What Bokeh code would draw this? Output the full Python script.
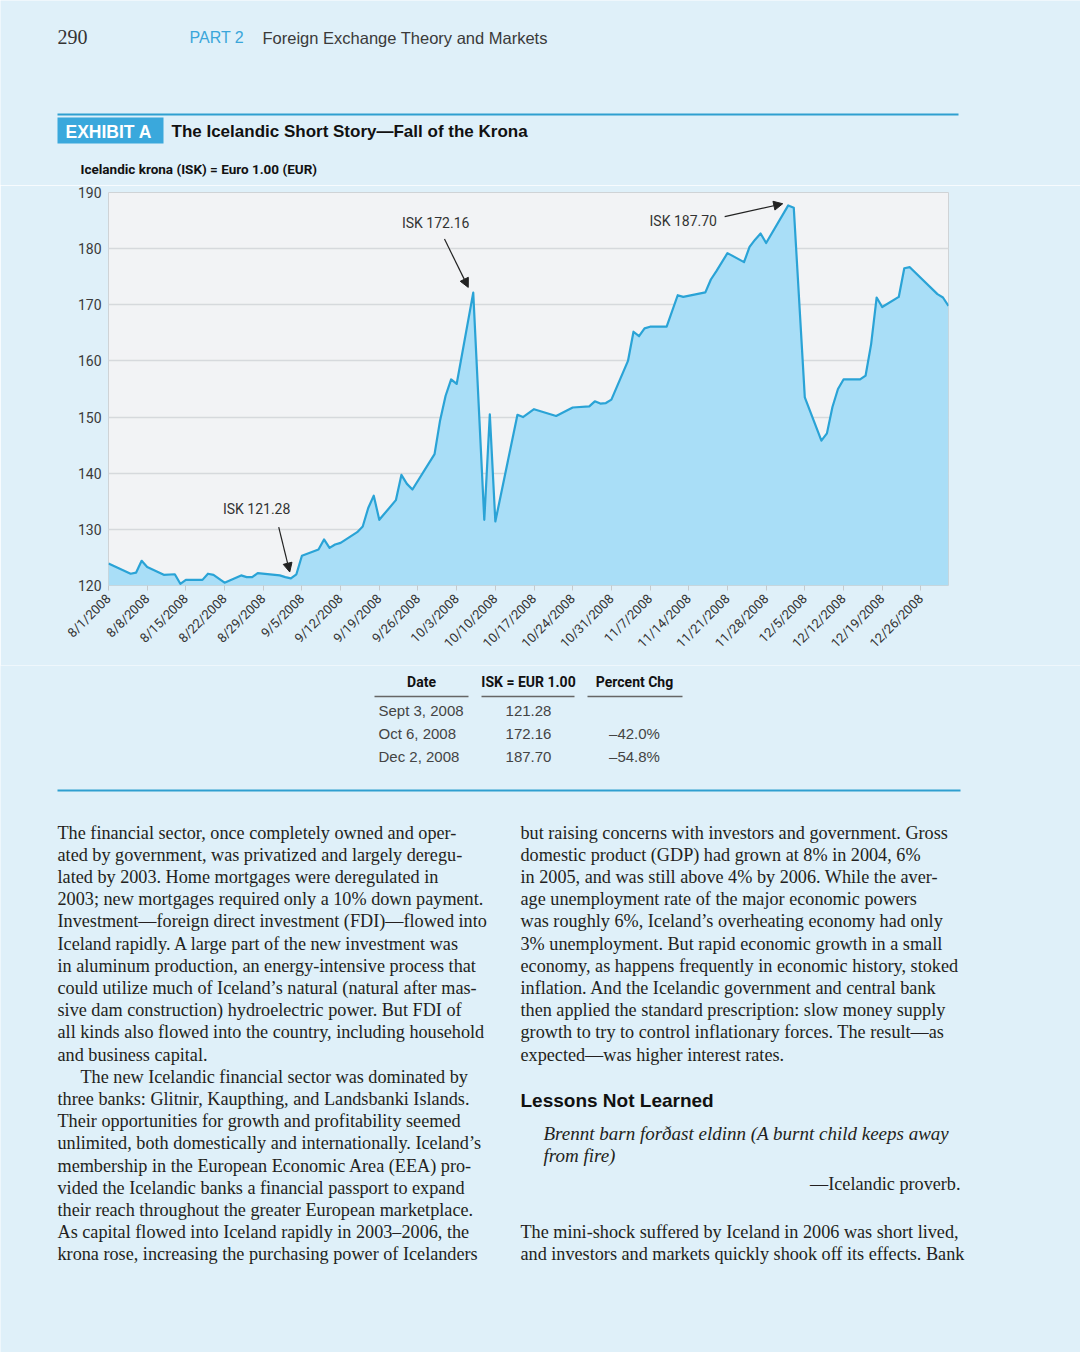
import math
import pandas as pd
from bokeh.plotting import figure
from bokeh.models import Range1d, FixedTicker, CustomJSTickFormatter, Arrow, NormalHead
from bokeh.core.properties import value
from bokeh.embed import file_html
from bokeh.resources import INLINE

# ---------------- data ----------------
dates = ["2008-08-01", "2008-08-05", "2008-08-06", "2008-08-07", "2008-08-08", "2008-08-11",
         "2008-08-13", "2008-08-14", "2008-08-15", "2008-08-18", "2008-08-19", "2008-08-20",
         "2008-08-22", "2008-08-25", "2008-08-26", "2008-08-27", "2008-08-28", "2008-09-01",
         "2008-09-02", "2008-09-03", "2008-09-04", "2008-09-05", "2008-09-08", "2008-09-09",
         "2008-09-10", "2008-09-11", "2008-09-12", "2008-09-15", "2008-09-16", "2008-09-17",
         "2008-09-18", "2008-09-19", "2008-09-22", "2008-09-23", "2008-09-24", "2008-09-25",
         "2008-09-29", "2008-09-30", "2008-10-01", "2008-10-02", "2008-10-03", "2008-10-06",
         "2008-10-08", "2008-10-09", "2008-10-10", "2008-10-14", "2008-10-15", "2008-10-17",
         "2008-10-21", "2008-10-24", "2008-10-27", "2008-10-28", "2008-10-29", "2008-10-30",
         "2008-10-31", "2008-11-03", "2008-11-04", "2008-11-05", "2008-11-06", "2008-11-07",
         "2008-11-10", "2008-11-12", "2008-11-13", "2008-11-17", "2008-11-18", "2008-11-19",
         "2008-11-21", "2008-11-24", "2008-11-25", "2008-11-26", "2008-11-27", "2008-11-28",
         "2008-12-02", "2008-12-03", "2008-12-05", "2008-12-08", "2008-12-09", "2008-12-10",
         "2008-12-11", "2008-12-12", "2008-12-15", "2008-12-16", "2008-12-17", "2008-12-18",
         "2008-12-19", "2008-12-22", "2008-12-23", "2008-12-24", "2008-12-29", "2008-12-30",
         "2008-12-31"]
isk_per_eur = [123.9, 122.1, 122.3, 124.4, 123.3, 121.9,
               122.0, 120.3, 121.0, 121.0, 122.1, 121.9,
               120.5, 121.8, 121.5, 121.5, 122.2, 121.8,
               121.5, 121.28, 122.0, 125.3, 126.4, 128.2,
               126.7, 127.3, 127.6, 129.5, 130.5, 133.8,
               136.0, 131.7, 135.2, 139.7, 138.1, 137.1,
               143.4, 149.4, 153.8, 156.7, 155.9, 172.16,
               131.7, 150.5, 131.4, 150.4, 150.0, 151.4,
               150.2, 151.7, 151.9, 152.8, 152.4, 152.5,
               153.1, 160.0, 165.2, 164.4, 165.8, 166.1,
               166.1, 171.7, 171.4, 172.2, 174.5, 176.0,
               179.2, 177.6, 180.3, 181.6, 182.7, 181.0,
               187.70, 187.3, 153.5, 145.8, 147.1, 151.8,
               155.0, 156.7, 156.7, 157.4, 163.0, 171.3,
               169.6, 171.4, 176.5, 176.7, 171.9, 171.3,
               169.8]

x_tick_labels = ["8/1/2008", "8/8/2008", "8/15/2008", "8/22/2008", "8/29/2008", "9/5/2008",
                 "9/12/2008", "9/19/2008", "9/26/2008", "10/3/2008", "10/10/2008", "10/17/2008",
                 "10/24/2008", "10/31/2008", "11/7/2008", "11/14/2008", "11/21/2008", "11/28/2008",
                 "12/5/2008", "12/12/2008", "12/19/2008", "12/26/2008"]
y_ticks = [120, 130, 140, 150, 160, 170, 180, 190]

table_dates = ["Sept 3, 2008", "Oct 6, 2008", "Dec 2, 2008"]
table_rates = ["121.28", "172.16", "187.70"]
table_pct = ["", "–42.0%", "–54.8%"]

callouts = ["ISK 121.28", "ISK 172.16", "ISK 187.70"]

left_par1 = [
    "The financial sector, once completely owned and oper-",
    "ated by government, was privatized and largely deregu-",
    "lated by 2003. Home mortgages were deregulated in",
    "2003; new mortgages required only a 10% down payment.",
    "Investment—foreign direct investment (FDI)—flowed into",
    "Iceland rapidly. A large part of the new investment was",
    "in aluminum production, an energy-intensive process that",
    "could utilize much of Iceland’s natural (natural after mas-",
    "sive dam construction) hydroelectric power. But FDI of",
    "all kinds also flowed into the country, including household",
    "and business capital.",
]
left_par2_first = "The new Icelandic financial sector was dominated by"
left_par2 = [
    "three banks: Glitnir, Kaupthing, and Landsbanki Islands.",
    "Their opportunities for growth and profitability seemed",
    "unlimited, both domestically and internationally. Iceland’s",
    "membership in the European Economic Area (EEA) pro-",
    "vided the Icelandic banks a financial passport to expand",
    "their reach throughout the greater European marketplace.",
    "As capital flowed into Iceland rapidly in 2003–2006, the",
    "krona rose, increasing the purchasing power of Icelanders",
]
right_col = [
    "but raising concerns with investors and government. Gross",
    "domestic product (GDP) had grown at 8% in 2004, 6%",
    "in 2005, and was still above 4% by 2006. While the aver-",
    "age unemployment rate of the major economic powers",
    "was roughly 6%, Iceland’s overheating economy had only",
    "3% unemployment. But rapid economic growth in a small",
    "economy, as happens frequently in economic history, stoked",
    "inflation. And the Icelandic government and central bank",
    "then applied the standard prescription: slow money supply",
    "growth to try to control inflationary forces. The result—as",
    "expected—was higher interest rates.",
]
right_col2 = [
    "The mini-shock suffered by Iceland in 2006 was short lived,",
    "and investors and markets quickly shook off its effects. Bank",
]

# ---------------- styles ----------------
PAGE_BG = "#dff0f9"
PLOT_BG = "#f2f3f5"
AREA = "#a9def7"
LINE = "#2aa3d6"
TEAL = "#2f9fd0"
SANS = "Liberation Sans"
NARROW = "Roboto"
SERIF = "Liberation Serif"
W = 1080


def blank(y0, y1):
    f = figure(width=W, height=y1 - y0, x_range=Range1d(0, W), y_range=Range1d(y1, y0),
               output_backend="svg", toolbar_location=None, min_border=0,
               x_axis_location=None, y_axis_location=None)
    f.grid.visible = False
    f.outline_line_color = None
    f.background_fill_color = PAGE_BG
    f.border_fill_color = PAGE_BG
    return f


def txt(f, x, y, s, size, color="#222222", font=SANS, style="normal", align="left"):
    f.text(x=[x], y=[y], text=[s], text_font=value(font), text_font_size=value(size),
           text_color=color, text_font_style=style, text_align=align, text_baseline="middle")


def lines(f, x, y0, rows, size, font, color, lh):
    f.text(x=[x] * len(rows), y=[y0 + i * lh for i in range(len(rows))], text=rows,
           text_font=value(font), text_font_size=value(size), text_color=color,
           text_align="left", text_baseline="middle")


# ---------------- header (page y 0..185) ----------------
hdr = blank(0, 185)
txt(hdr, 57, 36, "290", "20px", "#333333", SERIF)
txt(hdr, 189, 37, "PART 2", "16px", "#3aa6da", SANS)
txt(hdr, 262, 37, "Foreign Exchange Theory and Markets", "16.5px", "#3a3a3a", SANS)
hdr.line(x=[57, 958], y=[114, 114], line_color=TEAL, line_width=2)
hdr.quad(left=[57], right=[163], top=[117], bottom=[143], fill_color="#3aa8dc", line_color=None)
txt(hdr, 65, 131, "EXHIBIT A", "17.5px", "white", SANS, "bold")
txt(hdr, 171, 131, "The Icelandic Short Story—Fall of the Krona", "17px", "#111111", SANS, "bold")
txt(hdr, 80, 168, "Icelandic krona (ISK) = Euro 1.00 (EUR)", "13.5px", "#111111", NARROW, "bold")

# ---------------- chart (page y 185..665) ----------------
xs = pd.to_datetime(dates)
start = pd.Timestamp("2008-08-01")
end = pd.Timestamp("2008-12-31")


def day(d):
    return start + pd.Timedelta(days=d)


def ms(ts):
    return ts.value / 1e6


p = figure(width=W, height=480, x_axis_type="datetime",
           x_range=Range1d(start, end), y_range=Range1d(y_ticks[0], y_ticks[-1]),
           output_backend="svg", toolbar_location=None,
           min_border_left=108, min_border_right=132, min_border_top=7, min_border_bottom=80)
p.background_fill_color = PLOT_BG
p.border_fill_color = PAGE_BG
p.outline_line_color = "#cfd3d6"

p.varea(x=xs, y1=[y_ticks[0]] * len(xs), y2=isk_per_eur, fill_color=AREA)
p.line(x=xs, y=isk_per_eur, line_color=LINE, line_width=2.2, line_join="round")

yt = FixedTicker(ticks=y_ticks)
p.yaxis.ticker = yt
p.ygrid.ticker = yt
p.ygrid.grid_line_color = "#d6d9dc"
p.ygrid.grid_line_width = 1.5
p.xgrid.visible = False
p.yaxis.axis_line_color = None
p.yaxis.major_tick_line_color = None
p.yaxis.minor_tick_line_color = None
p.yaxis.major_tick_out = 0
p.yaxis.major_tick_in = 0
p.yaxis.major_label_standoff = 7
p.yaxis.major_label_text_font = NARROW
p.yaxis.major_label_text_font_size = "14px"
p.yaxis.major_label_text_color = "#3a3a3a"

tick_ms = [ms(pd.to_datetime(t, format="%m/%d/%Y")) for t in x_tick_labels]
p.xaxis.ticker = FixedTicker(ticks=tick_ms)
p.xaxis.formatter = CustomJSTickFormatter(
    args=dict(tick_vals=tick_ms, tick_names=x_tick_labels),
    code="const i = tick_vals.indexOf(tick); return i >= 0 ? tick_names[i] : '';")
p.xaxis.major_label_orientation = math.pi / 4
p.xaxis.axis_line_color = None
p.xaxis.minor_tick_line_color = None
p.xaxis.major_tick_in = 0
p.xaxis.major_tick_out = 5
p.xaxis.major_tick_line_color = "#c5cacd"
p.xaxis.major_label_standoff = 6
p.xaxis.major_label_text_font = NARROW
p.xaxis.major_label_text_font_size = "13px"
p.xaxis.major_label_text_color = "#333333"

# call-outs
call_x = [day(26.8), day(59.2), day(104.0)]
call_y = [133.6, 184.5, 185.0]
p.text(x=call_x, y=call_y, text=callouts, text_font=value(NARROW), text_font_size=value("14px"),
       text_color="#333333", text_align="center", text_baseline="middle")
arrows = [((30.8, 130.4), (32.8, 122.4)),
          ((60.8, 181.7), (65.1, 173.1)),
          ((111.5, 185.7), (122.0, 188.0))]
for (d0, v0), (d1, v1) in arrows:
    p.add_layout(Arrow(x_start=ms(day(d0)), y_start=v0, x_end=ms(day(d1)), y_end=v1,
                       line_color="#222222", line_width=1.2,
                       end=NormalHead(size=9, fill_color="#222222", line_color="#222222")))

# ---------------- table + body (page y 665..1352) ----------------
bot = blank(665, 1352)
hy = 681
txt(bot, 421, hy, "Date", "14px", "#111111", NARROW, "bold", "center")
txt(bot, 528, hy, "ISK = EUR 1.00", "14px", "#111111", NARROW, "bold", "center")
txt(bot, 634, hy, "Percent Chg", "14px", "#111111", NARROW, "bold", "center")
for a, b in [(374, 468), (481, 574), (587, 682)]:
    bot.line(x=[a, b], y=[696, 696], line_color="#666666", line_width=1.3)
row_y = [710, 733, 756]
bot.text(x=[378] * 3, y=row_y, text=table_dates, text_font=value(SANS), text_font_size=value("15px"),
         text_color="#444444", text_align="left", text_baseline="middle")
bot.text(x=[528] * 3, y=row_y, text=table_rates, text_font=value(SANS), text_font_size=value("15px"),
         text_color="#444444", text_align="center", text_baseline="middle")
bot.text(x=[634] * 3, y=row_y, text=table_pct, text_font=value(SANS), text_font_size=value("15px"),
         text_color="#444444", text_align="center", text_baseline="middle")
bot.line(x=[57, 960], y=[790, 790], line_color=TEAL, line_width=2)

LH = 22.2
BODY = "18.2px"
INK = "#231f20"
lines(bot, 57, 832, left_par1, BODY, SERIF, INK, LH)
y_par2 = 832 + len(left_par1) * LH
txt(bot, 80, y_par2, left_par2_first, BODY, INK, SERIF)
lines(bot, 57, y_par2 + LH, left_par2, BODY, SERIF, INK, LH)
lines(bot, 520, 832, right_col, BODY, SERIF, INK, LH)
txt(bot, 520, 1100, "Lessons Not Learned", "19px", "#111111", SANS, "bold")
txt(bot, 543, 1133, "Brennt barn forðast eldinn (A burnt child keeps away", "19px", INK, SERIF, "italic")
txt(bot, 543, 1155, "from fire)", "19px", INK, SERIF, "italic")
txt(bot, 960, 1183, "—Icelandic proverb.", BODY, INK, SERIF, "normal", "right")
lines(bot, 520, 1231, right_col2, BODY, SERIF, INK, LH)

html = file_html([hdr, p, bot], INLINE, title="The Icelandic Short Story")
html = html.replace("<body>", '<body style="background-color:%s;">' % PAGE_BG, 1)
open("out.html", "w").write(html)
